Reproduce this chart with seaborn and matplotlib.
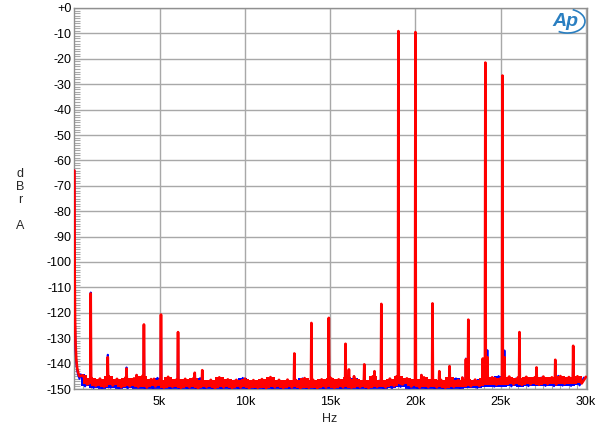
import numpy as np
import pandas as pd
import matplotlib
matplotlib.use("Agg")
import matplotlib.pyplot as plt
import seaborn as sns
from matplotlib.ticker import MultipleLocator, FixedLocator
from matplotlib.patches import Arc

# ---------------- data ----------------
lf_freq = [5, 20, 40, 70, 110, 160, 220, 300]
lf_red = [-64, -105, -122, -132, -138, -141.5, -143.5, -145.0]
lf_blue = [-64, -106, -124, -134, -139.5, -142.5, -144.5, -146.0]

red_noise_start, blue_noise_start, noise_step = 500, 375, 250
red_noise = [
    -144.6, -148.2, -145.6, -148.8, -145.9, -149.1, -144.9, -148.6, -146.0, -149.3, -145.5,
    -148.9, -145.8, -149.2, -144.8, -149.4, -146.1, -149.0, -146.3, -149.5, -145.2, -149.1, -146.2,
    -149.6, -146.0, -149.3, -145.6, -149.7, -146.3, -149.2, -146.4, -149.8, -145.4, -149.3, -146.2,
    -149.7, -146.4, -149.4, -145.9, -149.8, -146.5, -149.5, -146.1, -149.7, -145.3, -149.3, -146.4,
    -149.6, -146.3, -149.4, -146.5, -149.8, -145.7, -149.5, -146.4, -149.7, -146.2, -149.4, -145.5,
    -149.6, -146.2, -149.3, -145.1, -149.5, -146.1, -149.2, -146.5, -149.6, -145.0, -149.1, -146.3,
    -149.3, -145.9, -148.8, -145.0, -148.2, -145.8, -149.0, -146.2, -149.4, -145.4, -149.2, -145.9,
    -149.3, -146.4, -149.5, -145.3, -149.1, -146.5, -149.4, -145.9, -148.9, -146.3, -148.8, -145.7,
    -148.6, -145.4, -148.3, -145.7, -148.5, -145.1, -148.2, -145.5, -148.4, -145.2, -148.1, -145.4,
    -148.3, -145.1, -148.0, -145.4, -148.2, -144.9, -147.9, -145.3, -148.1, -145.0, -147.8, -145.2,
]
blue_noise = [
    -144.2, -149.0, -146.2, -149.6, -146.6, -149.9, -146.2, -149.5, -146.8, -150.1, -146.4,
    -149.8, -146.5, -150.2, -146.8, -150.3, -146.4, -150.0, -145.6, -150.4, -146.6, -150.1, -146.7,
    -150.4, -146.6, -150.2, -146.9, -150.5, -145.7, -150.3, -147.0, -150.4, -146.8, -150.2, -146.9,
    -150.4, -146.7, -150.2, -145.6, -150.5, -147.0, -150.3, -146.7, -150.4, -146.9, -150.2, -146.8,
    -150.4, -146.9, -150.3, -146.7, -150.5, -145.8, -150.2, -146.8, -150.4, -146.6, -150.3, -146.9,
    -150.4, -146.7, -150.2, -146.9, -150.4, -145.5, -150.1, -146.8, -150.3, -146.5, -150.0, -146.7,
    -150.0, -146.4, -149.7, -146.0, -149.2, -146.6, -149.9, -146.8, -150.2, -146.7, -150.1, -146.5,
    -150.2, -146.9, -150.3, -146.7, -150.0, -145.8, -150.1, -146.6, -149.8, -146.8, -149.6, -146.2,
    -149.3, -145.8, -149.1, -144.9, -149.2, -145.7, -149.0, -145.9, -149.1, -145.6, -148.9, -145.8,
    -149.0, -145.5, -148.8, -145.7, -148.9, -144.8, -148.7, -145.6, -148.8, -145.3, -148.6, -145.5,
]

peak_freq = [960, 1960, 3060, 3650, 4080, 4670, 5080, 6080, 7060, 7500,
             12900, 13900, 14920, 15100, 15900, 16100, 16400, 17000, 17600, 18000,
             18900, 19000, 20000, 20350, 21000, 21400, 22000, 22750, 22960, 23100,
             23950, 24100, 24220, 25100, 25220, 26100, 27100, 28200, 29250]
red_peak = [-112.4, -137.5, -142.0, -144.5, -124.6, -146.0, -120.7, -127.6, -143.6, -142.6,
            -136.0, -124.0, -122.0, -146.0, -132.2, -142.3, -145.0, -140.3, -143.0, -116.5,
            -145.0, -9.1, -9.5, -144.5, -116.3, -143.0, -141.0, -145.5, -138.3, -122.7,
            -138.0, -21.5, -137.5, -26.6, -137.5, -127.6, -141.5, -138.5, -133.0]
blue_peak = [-112.0, -136.5, -141.5, -144.5, -124.8, -146.0, -121.0, -127.8, -143.8, -143.0,
             -136.3, -124.2, -122.3, -146.0, -132.5, -142.5, -145.0, -140.5, -143.2, -116.8,
             -145.0, -9.3, -9.7, -144.5, -116.5, -143.2, -141.2, -145.5, -138.0, -123.0,
             -138.5, -21.8, -134.7, -26.9, -134.8, -127.8, -141.8, -138.8, -133.3]

x_ticks = [5000, 10000, 15000, 20000, 25000, 30000]
x_tick_labels = ["5k", "10k", "15k", "20k", "25k", "30k"]
y_ticks = list(range(0, -151, -10))
y_tick_labels = ["+0"] + [str(v) for v in y_ticks[1:]]

RED, BLUE = "#ff0000", "#0000ff"


def noise_grid(start, noise):
    return [start + i * noise_step for i in range(len(noise))]


def build(lf_l, noise, start, peaks, channel):
    f, v = list(lf_freq), list(lf_l)
    for nf, nv in zip(noise_grid(start, noise), noise):
        if min(abs(nf - p) for p in peak_freq) > 30:
            f.append(nf)
            v.append(nv)
    for pf, pv in zip(peak_freq, peaks):
        f += [pf - 25, pf, pf + 25]
        v += [-147.5, pv, -147.5]
    d = pd.DataFrame({"Hz": f, "dBr": v})
    d = d.sort_values("Hz", kind="mergesort").reset_index(drop=True)
    d["ch"] = channel
    return d


df_blue = build(lf_blue, blue_noise, blue_noise_start, blue_peak, "B")
df_red = build(lf_red, red_noise, red_noise_start, red_peak, "A")

# ---------------- plot ----------------
sns.set_theme(style="white")
plt.rcParams["font.family"] = ["Liberation Sans", "DejaVu Sans"]

fig = plt.figure(figsize=(6.0, 4.33), dpi=100)
ax = fig.add_axes([74 / 600, 1 - 389 / 433, (587 - 74) / 600, (389 - 8) / 433])

# dense noise band (fill between successive noise samples)
for start, noise, col, z in [(blue_noise_start, blue_noise, BLUE, 2), (red_noise_start, red_noise, RED, 4)]:
    g = np.array(noise_grid(start, noise), dtype=float)
    n = np.array(noise, dtype=float)
    lo = np.minimum(n[:-1], n[1:])
    hi = np.maximum(n[:-1], n[1:])
    ax.fill_between(g[:-1], lo, hi, step="post", color=col, linewidth=0, zorder=z)

sns.lineplot(data=df_blue, x="Hz", y="dBr", color=BLUE, estimator=None,
             sort=False, linewidth=1.4, legend=False, ax=ax, zorder=3)
sns.lineplot(data=df_red, x="Hz", y="dBr", color=RED, estimator=None,
             sort=False, linewidth=1.9, legend=False, ax=ax, zorder=5)

ax.set_xlim(-20, 30060)
ax.set_ylim(-150, 0)
ax.xaxis.set_major_locator(FixedLocator(x_ticks))
ax.set_xticklabels(x_tick_labels)
ax.yaxis.set_major_locator(FixedLocator(y_ticks))
ax.set_yticklabels(y_tick_labels)
ax.xaxis.set_minor_locator(MultipleLocator(500))
ax.yaxis.set_minor_locator(MultipleLocator(1))
ax.tick_params(which="major", length=0, labelsize=9, colors="black")
ax.tick_params(axis="y", which="major", pad=2)
ax.tick_params(axis="x", which="major", pad=5)
ax.tick_params(which="minor", direction="in", length=4, color="#a8a8a8", width=0.8)
ax.tick_params(axis="x", which="minor", top=False, bottom=True)
ax.tick_params(axis="y", which="minor", left=True, right=False)
ax.grid(True, which="major", color="#a8a8a8", linewidth=1.0)
ax.set_axisbelow(True)
for s in ax.spines.values():
    s.set_color("#909090")
    s.set_linewidth(1.0)
ax.set_xlabel("")
ax.set_ylabel("")

fig.text(330 / 600, 1 - 419 / 433, "Hz", fontsize=9, ha="center", va="center")
fig.text(20 / 600, 1 - 200 / 433, "d\nB\nr\n\nA", fontsize=9, ha="center",
         va="center", linespacing=1.1)

# Ap logo
fig.text(565 / 600, 1 - 21 / 433, "Ap", fontsize=14, fontstyle="italic", fontweight="bold",
         color="#2a7fc1", ha="center", va="center")
logo = Arc((567 / 600, 1 - 21 / 433), 36 / 600, 24 / 433, angle=-10,
           theta1=250, theta2=80, color="#2a7fc1", linewidth=1.2,
           transform=fig.transFigure)
fig.add_artist(logo)

fig.savefig("out.png", dpi=100)
